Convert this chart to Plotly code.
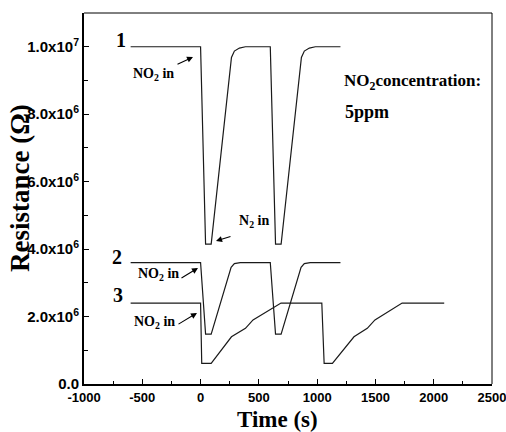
import plotly.graph_objects as go

# ---- data ----
t1 = [-600, 0, 43, 91, 265, 290, 333, 385, 598, 643, 691, 865, 890, 933, 985, 1200]
r1 = [1.0e7, 1.0e7, 4.15e6, 4.15e6, 9.68e6, 9.87e6, 9.96e6, 1.0e7, 1.0e7, 4.15e6, 4.15e6, 9.68e6, 9.87e6, 9.96e6, 1.0e7, 1.0e7]

t2 = [-600, 0, 43, 91, 262, 290, 340, 598, 643, 691, 862, 890, 940, 1200]
r2 = [3.6e6, 3.6e6, 1.48e6, 1.48e6, 3.46e6, 3.57e6, 3.6e6, 3.6e6, 1.48e6, 1.48e6, 3.46e6, 3.57e6, 3.6e6, 3.6e6]

t3 = [-600, 0, 10, 91, 265, 385, 450, 690, 1040, 1060, 1131, 1316, 1430, 1496, 1729, 2090]
r3 = [2.4e6, 2.4e6, 0.61e6, 0.61e6, 1.40e6, 1.65e6, 1.90e6, 2.4e6, 2.4e6, 0.61e6, 0.61e6, 1.40e6, 1.65e6, 1.90e6, 2.4e6, 2.4e6]

x_tickvals = [-1000, -500, 0, 500, 1000, 1500, 2000, 2500]
x_ticktext = ["-1000", "-500", "0", "500", "1000", "1500", "2000", "2500"]
x_minor = [-750, -250, 250, 750, 1250, 1750, 2250]

y_tickvals = [0, 2e6, 4e6, 6e6, 8e6, 1e7]
y_ticktext = ["0.0", "2.0x10<sup>6</sup>", "4.0x10<sup>6</sup>", "6.0x10<sup>6</sup>",
              "8.0x10<sup>6</sup>", "1.0x10<sup>7</sup>"]
y_minor = [1e6, 3e6, 5e6, 7e6, 9e6]

curve_labels = ["1", "2", "3"]

SERIF = "Liberation Serif"
SANS = "Liberation Sans"
LINE = "#1a1a1a"

fig = go.Figure()
for t, r in [(t1, r1), (t2, r2), (t3, r3)]:
    fig.add_trace(go.Scatter(x=t, y=r, mode="lines", line=dict(color=LINE, width=1.2),
                             showlegend=False, hoverinfo="skip"))

W, H = 506, 432
ml, mr, mt, mb = 84, 14, 13, 48
pw, ph = W - ml - mr, H - mt - mb
xr = [-1000, 2500]
yr = [0, 1.1e7]


def px2x(px):  # reference pixel -> data x
    return xr[0] + (px - ml) / pw * (xr[1] - xr[0])


def py2y(py):  # reference pixel -> data y
    return yr[0] + (mt + ph - py) / ph * (yr[1] - yr[0])


def px2p(px):
    return (px - ml) / pw


def py2p(py):
    return (mt + ph - py) / ph


ann = []
# curve numbers
for lab, (px, py) in zip(curve_labels, [(121, 40), (117, 257), (118, 295)]):
    ann.append(dict(x=px2x(px), y=py2y(py), text=lab, showarrow=False,
                    xanchor="center", yanchor="middle",
                    font=dict(family=SERIF, size=20, color="black", weight="bold")))

# gas-in labels
labels = [
    ("NO<sub>2</sub> in", (153, 74)),
    ("NO<sub>2</sub> in", (158, 274)),
    ("NO<sub>2</sub> in", (154, 322)),
    ("N<sub>2</sub> in", (254, 221)),
]
for txt, (px, py) in labels:
    ann.append(dict(x=px2x(px), y=py2y(py), text=txt, showarrow=False,
                    xanchor="center", yanchor="middle",
                    font=dict(family=SERIF, size=14, color="black", weight="bold")))

arrows = [
    ((176, 65), (193, 57)),
    ((180, 279), (198, 268)),
    ((177, 325), (197, 313)),
    ((232, 236), (216, 241)),
]
for (tx, ty), (hx, hy) in arrows:
    ann.append(dict(x=px2x(hx), y=py2y(hy), ax=px2x(tx), ay=py2y(ty),
                    axref="x", ayref="y", xref="x", yref="y", text="",
                    showarrow=True, arrowhead=2, arrowsize=1.1, arrowwidth=1.1,
                    arrowcolor="black"))

ann.append(dict(x=px2x(342), y=py2y(82), text="NO<sub>2</sub>concentration:", showarrow=False,
                xanchor="left", yanchor="middle",
                font=dict(family=SERIF, size=17, color="black", weight="bold")))
ann.append(dict(x=px2x(343), y=py2y(112), text="5ppm", showarrow=False,
                xanchor="left", yanchor="middle",
                font=dict(family=SERIF, size=18, color="black", weight="bold")))

# axis titles
ann.append(dict(xref="paper", yref="paper", x=px2p(20), y=py2p(188),
                xanchor="center", yanchor="middle",
                text="Resistance (Ω)", textangle=-90, showarrow=False,
                font=dict(family=SERIF, size=27, color="black", weight="bold")))
ann.append(dict(xref="paper", yref="paper", x=px2p(277), y=py2p(420),
                xanchor="center", yanchor="middle",
                text="Time (s)", showarrow=False,
                font=dict(family=SERIF, size=23, color="black", weight="bold")))

fig.update_layout(
    width=W, height=H,
    margin=dict(l=ml, r=mr, t=mt, b=mb),
    paper_bgcolor="white", plot_bgcolor="white",
    annotations=ann,
    shapes=[
        dict(type="line", xref="paper", yref="paper", x0=0, x1=1, y0=1, y1=1,
             line=dict(color="black", width=1)),
        dict(type="line", xref="paper", yref="paper", x0=1, x1=1, y0=0, y1=1,
             line=dict(color="black", width=1)),
    ],
)

fig.update_xaxes(range=xr, showgrid=False, zeroline=False, automargin=False,
                 showline=True, linecolor="black", linewidth=2,
                 tickmode="array", tickvals=x_tickvals, ticktext=x_ticktext,
                 ticklabeloverflow="allow",
                 ticks="inside", ticklen=5, tickwidth=1.2, tickcolor="black",
                 minor=dict(tickmode="array", tickvals=x_minor, ticks="inside",
                            ticklen=3, tickwidth=1.2, tickcolor="black"),
                 tickfont=dict(family=SANS, size=13, color="black", weight="bold"))
fig.update_yaxes(range=yr, showgrid=False, zeroline=False, automargin=False,
                 showline=True, linecolor="black", linewidth=2,
                 tickmode="array", tickvals=y_tickvals, ticktext=y_ticktext,
                 ticklabeloverflow="allow",
                 ticks="inside", ticklen=5, tickwidth=1.2, tickcolor="black",
                 minor=dict(tickmode="array", tickvals=y_minor, ticks="inside",
                            ticklen=4, tickwidth=1.2, tickcolor="black"),
                 tickfont=dict(family=SANS, size=15, color="black", weight="bold"))

fig.write_html("out.html",
               config={"displayModeBar": False},
               post_script="document.body.style.margin='0';document.body.style.overflow='hidden';")
